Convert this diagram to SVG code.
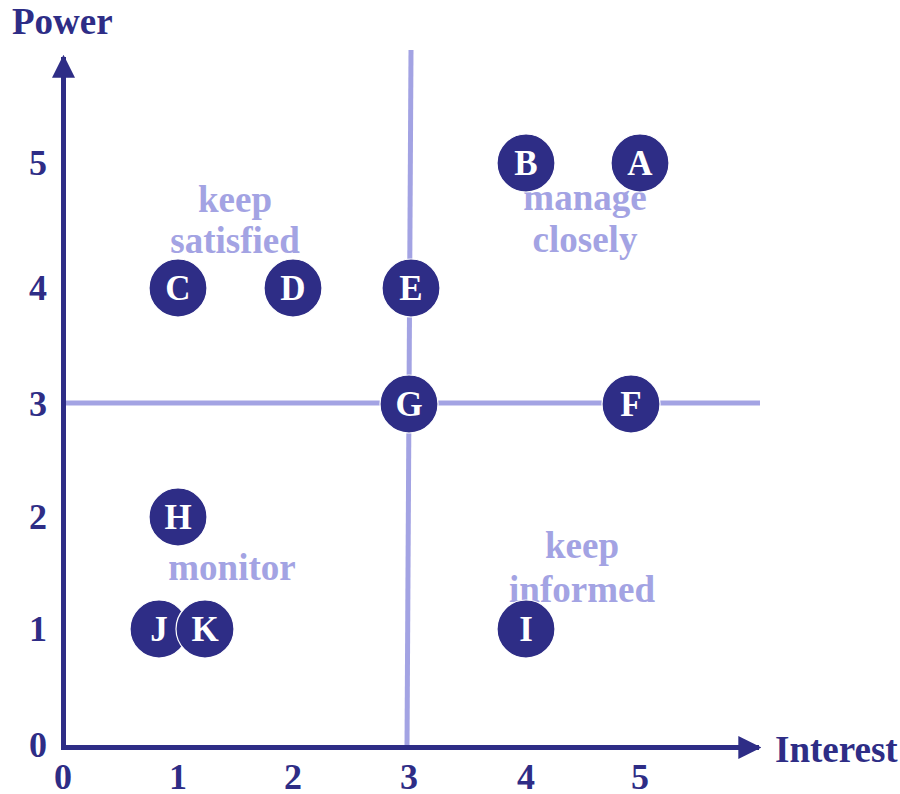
<svg xmlns="http://www.w3.org/2000/svg" width="900" height="794" viewBox="0 0 900 794">
<style>
.ax{fill:#2e2d86;font-family:"Liberation Serif",serif;font-weight:bold;font-size:37px}
.tk{fill:#2e2d86;font-family:"Liberation Serif",serif;font-weight:bold;font-size:36px;text-anchor:middle}
.q{fill:#a3a3e3;font-family:"Liberation Serif",serif;font-weight:bold;font-size:37px;text-anchor:middle}
.n circle{fill:#2e2d86;stroke:#ffffff;stroke-width:1.2}
.n text{fill:#ffffff;font-family:"Liberation Serif",serif;font-weight:bold;font-size:35px;text-anchor:middle}
.axl{stroke:#2e2d86;stroke-width:5;fill:none}
.ql{stroke:#a3a3e3;stroke-width:5;fill:none}
</style>
<defs>
<marker id="ah" viewBox="0 0 10 10" refX="9" refY="5" markerWidth="4.6" markerHeight="4.6" orient="auto" markerUnits="strokeWidth">
<path d="M0,0 L10,5 L0,10 Z" fill="#2e2d86"/>
</marker>
</defs>
<g id="connectors">
<line class="ql" x1="411" y1="50" x2="407" y2="747"/>
<line class="ql" x1="63" y1="403" x2="760" y2="403"/>
<path class="axl" d="M63.5,747.5 L63.5,57" marker-end="url(#ah)"/>
<path class="axl" d="M61,747.5 L759,747.5" marker-end="url(#ah)"/>
</g>
<g id="labels">
<text class="ax" x="12" y="34">Power</text>
<text class="ax" x="775" y="762">Interest</text>
<text class="tk" x="38" y="175">5</text>
<text class="tk" x="38" y="300">4</text>
<text class="tk" x="38" y="416">3</text>
<text class="tk" x="38" y="529">2</text>
<text class="tk" x="38" y="641">1</text>
<text class="tk" x="38" y="757">0</text>
<text class="tk" x="63" y="789">0</text>
<text class="tk" x="178" y="789">1</text>
<text class="tk" x="293" y="789">2</text>
<text class="tk" x="409" y="789">3</text>
<text class="tk" x="526" y="789">4</text>
<text class="tk" x="640" y="789">5</text>
<text class="q" x="235" y="212">keep</text>
<text class="q" x="235" y="253">satisfied</text>
<text class="q" x="585" y="210">manage</text>
<text class="q" x="585" y="252">closely</text>
<text class="q" x="232" y="580">monitor</text>
<text class="q" x="582" y="558">keep</text>
<text class="q" x="582" y="602">informed</text>
</g>
<g id="B" class="n"><circle cx="526" cy="163" r="29"/><text x="526" y="175">B</text></g>
<g id="A" class="n"><circle cx="640" cy="163" r="29"/><text x="640" y="175">A</text></g>
<g id="C" class="n"><circle cx="178" cy="288" r="29"/><text x="178" y="300">C</text></g>
<g id="D" class="n"><circle cx="293" cy="288" r="29"/><text x="293" y="300">D</text></g>
<g id="E" class="n"><circle cx="411" cy="288" r="29"/><text x="411" y="300">E</text></g>
<g id="G" class="n"><circle cx="409" cy="404" r="29"/><text x="409" y="416">G</text></g>
<g id="F" class="n"><circle cx="631" cy="404" r="29"/><text x="631" y="416">F</text></g>
<g id="H" class="n"><circle cx="178" cy="517" r="29"/><text x="178" y="529">H</text></g>
<g id="J" class="n"><circle cx="159" cy="629" r="29"/><text x="159" y="641">J</text></g>
<g id="K" class="n"><circle cx="205" cy="629" r="29"/><text x="205" y="641">K</text></g>
<g id="I" class="n"><circle cx="526" cy="629" r="29"/><text x="526" y="641">I</text></g>
</svg>
